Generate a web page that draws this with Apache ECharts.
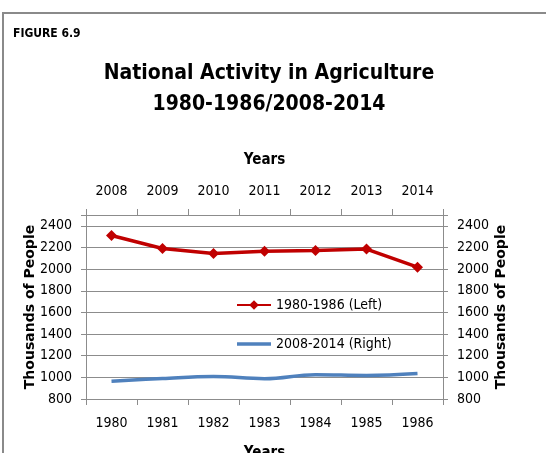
<!DOCTYPE html>
<html>
<head>
<meta charset="utf-8">
<script src="https://cdn.jsdelivr.net/npm/echarts@6/dist/echarts.min.js"></script>
<style>
  html, body { margin: 0; padding: 0; background: #fff; }
  #chart { width: 546px; height: 453px; }
</style>
</head>
<body>
<div id="chart"></div>
<script>
// years on the two x axes
var yearsEarly = ['1980', '1981', '1982', '1983', '1984', '1985', '1986'];
var yearsLate = ['2008', '2009', '2010', '2011', '2012', '2013', '2014'];
// thousands of people
var valuesEarly = [2310, 2190, 2145, 2165, 2172, 2185, 2018];
var valuesLate = [965, 990, 1008, 988, 1025, 1018, 1035];

var font = "'DejaVu Sans Condensed', 'Open Sans', sans-serif";
var gray = '#8c8c8c';

var chart = echarts.init(document.getElementById('chart'));

function yAxis(pos) {
  return {
    type: 'value',
    position: pos,
    min: 800,
    max: 2500,
    interval: 200,
    name: 'Thousands of People',
    nameLocation: 'middle',
    nameRotate: 90,
    nameMoveOverlap: false,
    nameGap: pos == 'left' ? 49 : 51,
    nameTextStyle: { fontFamily: 'DejaVu Sans', fontWeight: 'bold', fontSize: 14, color: '#000' },
    axisLine: { show: true, lineStyle: { color: gray } },
    axisTick: { show: true, length: 5, lineStyle: { color: gray } },
    axisLabel: {
      fontFamily: font, fontSize: 14, color: '#000', margin: 14,
      formatter: function (v) { return v > 2400 ? '' : v; }
    },
    splitLine: { show: pos == 'left', lineStyle: { color: gray } }
  };
}

function xAxis(pos, cats) {
  return {
    type: 'category',
    position: pos,
    data: cats,
    boundaryGap: true,
    name: 'Years',
    nameLocation: 'middle',
    nameGap: 47,
    nameTextStyle: { fontFamily: font, fontWeight: 'bold', fontSize: 15, color: '#000' },
    axisLine: { show: true, lineStyle: { color: gray } },
    axisTick: { show: true, length: 6, alignWithLabel: false, lineStyle: { color: gray } },
    axisLabel: { fontFamily: font, fontSize: 14, color: '#000', margin: 17 },
    splitLine: { show: false }
  };
}

var option = {
  backgroundColor: '#fff',
  animation: false,
  title: [{
    text: 'FIGURE 6.9',
    left: 8, top: 23,
    textStyle: { fontFamily: font, fontWeight: 'bold', fontSize: 12, color: '#000' }
  }, {
    text: 'National Activity in Agriculture\n1980-1986/2008-2014',
    left: 264, top: 53, textAlign: 'center',
    textStyle: { fontFamily: font, fontWeight: 'bold', fontSize: 21, lineHeight: 31, color: '#000' }
  }],
  grid: { left: 86, right: 103, top: 215, bottom: 54, outerBoundsMode: 'none' },
  legend: {
    orient: 'vertical',
    left: 231, top: 293,
    itemWidth: 34, itemHeight: 12, itemGap: 25,
    textStyle: { fontFamily: font, fontSize: 14, color: '#000' },
    data: [
      { name: '1980-1986 (Left)' },
      { name: '2008-2014 (Right)', icon: 'path://M0,0H34V3.5H0Z' }
    ]
  },
  xAxis: [xAxis('bottom', yearsEarly), xAxis('top', yearsLate)],
  yAxis: [yAxis('left'), yAxis('right')],
  series: [{
    name: '1980-1986 (Left)',
    type: 'line',
    xAxisIndex: 0, yAxisIndex: 0,
    data: valuesEarly,
    symbol: 'diamond', symbolSize: 11,
    lineStyle: { color: '#c00000', width: 3.5 },
    itemStyle: { color: '#c00000' }
  }, {
    name: '2008-2014 (Right)',
    type: 'line',
    xAxisIndex: 1, yAxisIndex: 1,
    data: valuesLate,
    smooth: 0.4,
    symbol: 'none',
    lineStyle: { color: '#4f81bd', width: 3.5 },
    itemStyle: { color: '#4f81bd' }
  }],
  graphic: [{
    type: 'polyline',
    shape: { points: [[3, 453], [3, 13], [546, 13]] },
    style: { stroke: '#8a8a8a', lineWidth: 2, fill: null }
  }]
};

chart.setOption(option);
</script>
</body>
</html>
